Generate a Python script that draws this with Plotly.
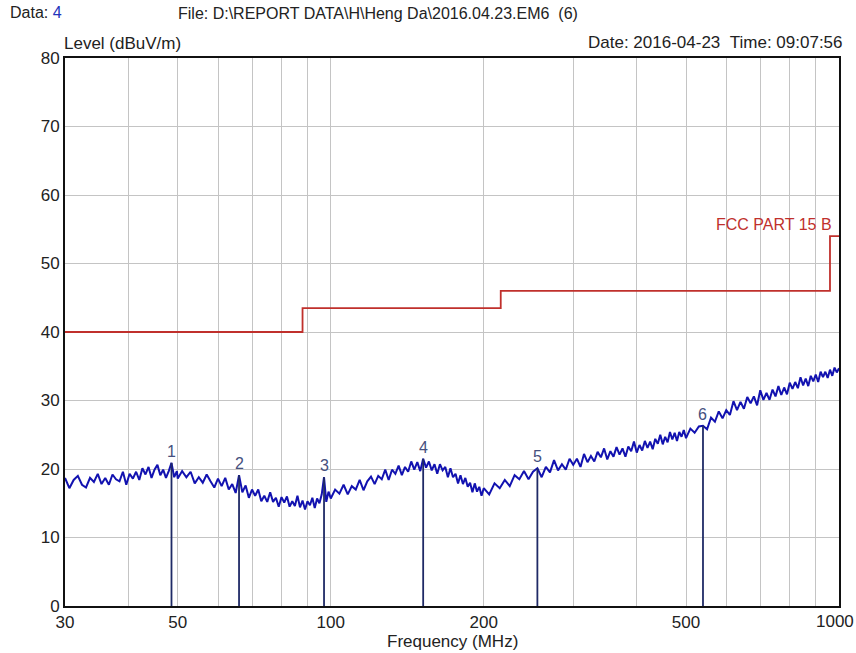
import numpy as np
import plotly.graph_objects as go

# ---------------- data ----------------
FREQ_MHZ = [
    30, 30.6, 31.2, 31.8, 32.4, 33, 33.6, 34.2, 34.8, 35.4, 36, 36.6, 37.2, 37.8, 38.4, 39, 39.6,
    40.2, 40.8, 41.4, 42, 42.6, 43.2, 43.8, 44.4, 45, 45.6, 46.2, 46.8, 47.4, 48, 48.6, 49.2, 49.8,
    50, 51, 52, 53, 54, 55, 56, 57, 58, 59, 60, 61, 62, 63, 64, 65, 66, 67, 68, 69,
    70, 71, 72, 73, 74, 75, 76, 77, 78, 79, 80, 81, 82, 83, 84, 85, 86, 87, 88, 89,
    90, 91, 92, 93, 94, 95, 96, 97, 98, 99,
    100, 102, 104, 106, 108, 110, 112, 114, 116, 118, 120, 122, 124, 126, 128, 130, 132, 134,
    136, 138, 140, 142, 144, 146, 148, 150, 152, 154, 156, 158, 160, 162, 164, 166, 168, 170,
    172, 174, 176, 178, 180, 182, 184, 186, 188, 190, 192, 194, 196, 198,
    200, 205, 210, 215, 220, 225, 230, 235, 240, 245, 250, 255, 260, 265, 270, 275, 280, 285,
    290, 295, 300, 305, 310, 315, 320, 325, 330, 335, 340, 345, 350, 355, 360, 365, 370, 375,
    380, 385, 390, 395, 400, 405, 410, 415, 420, 425, 430, 435, 440, 445, 450, 455, 460, 465,
    470, 475, 480, 485, 490, 495,
    500, 510, 520, 530, 540, 550, 560, 570, 580, 590, 600, 610, 620, 630, 640, 650, 660, 670,
    680, 690, 700, 710, 720, 730, 740, 750, 760, 770, 780, 790, 800, 810, 820, 830, 840, 850,
    860, 870, 880, 890, 900, 910, 920, 930, 940, 950, 960, 970, 980, 990, 1000,
]
LEVEL_DBUV = [
    18.7, 17.2, 18.4, 19.0, 17.7, 17.3, 18.7, 18.1, 19.3, 17.8, 18.7, 17.7, 19.2, 18.5, 18.2, 19.6, 17.7,
    19.3, 18.6, 19.6, 18.4, 20.1, 19.2, 20.3, 18.7, 19.9, 20.6, 19.1, 19.9, 18.7, 19.7, 20.9, 18.8, 19.7,
    18.6, 19.7, 18.8, 19.6, 17.9, 18.8, 18.0, 19.2, 18.2, 17.3, 18.6, 17.5, 18.7, 17.0, 17.8, 16.5, 19.1, 16.6, 17.6, 15.8,
    17.0, 16.1, 17.0, 15.3, 16.1, 15.2, 16.6, 15.2, 15.8, 14.5, 15.9, 15.1, 16.0, 14.5, 15.3, 14.6, 16.1, 14.4, 15.4, 14.1,
    15.3, 14.7, 15.8, 14.3, 15.7, 15.0, 16.3, 18.8, 15.2, 16.7,
    15.7, 17.0, 16.4, 17.7, 16.3, 17.5, 17.0, 18.4, 16.9, 18.2, 18.9, 17.8, 19.0, 18.5, 19.9, 18.4, 19.9, 19.3,
    20.5, 19.1, 20.3, 19.6, 21.1, 19.9, 21.0, 19.7, 21.5, 20.2, 21.1, 19.8, 20.7, 19.3, 20.7, 19.8, 20.3, 18.8,
    20.1, 18.8, 19.3, 17.9, 19.1, 17.8, 18.7, 17.4, 18.0, 16.6, 17.9, 16.7, 17.4, 16.1,
    17.2, 16.3, 17.9, 17.2, 18.4, 17.5, 19.1, 18.5, 19.7, 18.5, 19.6, 20.1, 18.8, 20.3, 19.5, 21.3, 19.8, 20.7,
    19.9, 21.5, 20.6, 21.5, 20.3, 22.2, 21.0, 21.9, 21.1, 22.5, 21.7, 23.0, 21.4, 22.6, 21.8, 23.2, 22.1, 23.0,
    21.8, 23.3, 22.6, 24.0, 22.4, 23.5, 22.7, 24.1, 23.1, 24.0, 22.9, 24.4, 23.7, 25.0, 23.6, 24.7, 23.9, 25.4,
    24.3, 25.3, 24.1, 25.4, 24.7, 25.7,
    24.5, 25.9, 25.3, 26.2, 26.3, 25.8, 27.5, 26.9, 28.4, 27.4, 28.6, 27.9, 29.9, 28.6, 29.8, 28.8, 30.5, 29.6,
    30.6, 29.3, 31.5, 30.1, 31.1, 30.1, 31.6, 30.6, 32.1, 30.8, 31.9, 30.9, 32.6, 31.7, 32.7, 31.8, 33.4, 32.2,
    33.2, 32.1, 33.6, 32.8, 33.8, 32.7, 34.2, 33.4, 34.2, 33.3, 34.5, 33.6, 34.8, 34.1, 34.7,
]

LIMIT_FREQ = [30, 88, 88, 216, 216, 960, 960, 1000]
LIMIT_LEVEL = [40, 40, 43.5, 43.5, 46, 46, 54, 54]
LIMIT_NAME = "FCC PART 15 B"

MARKER_IDS = ["1", "2", "3", "4", "5", "6"]
MARKER_FREQ = [48.6, 66, 97, 152, 255, 540]
MARKER_LEVEL = [20.9, 19.1, 18.8, 21.5, 20.1, 26.3]

X_TICKS = [30, 40, 50, 60, 70, 80, 90, 100, 200, 300, 400, 500, 600, 700, 800, 900, 1000]
X_TICK_TEXT = ["30", "", "50", "", "", "", "", "100", "200", "", "", "500", "", "", "", "", ""]
X_EDGE_LABEL = "1000"   # drawn as an annotation so it is not dropped at the figure edge
Y_TICKS = [0, 10, 20, 30, 40, 50, 60, 70, 80]

FONT = "Liberation Sans, Arial, sans-serif"
TRACE_COLOR = "#1212b0"
MARKER_COLOR = "#1f2a66"
LIMIT_COLOR = "#c0302c"
TEXT_COLOR = "#222222"

FIG_W, FIG_H = 856, 653
PL, PR, PT, PB = 65, 839, 58, 606   # plot area in page pixels

fig = go.Figure()

fig.add_trace(go.Scatter(
    x=FREQ_MHZ, y=LEVEL_DBUV, mode="lines",
    line=dict(color=TRACE_COLOR, width=2), hoverinfo="skip", showlegend=False))

fig.add_trace(go.Scatter(
    x=LIMIT_FREQ, y=LIMIT_LEVEL, mode="lines",
    line=dict(color=LIMIT_COLOR, width=1.8), hoverinfo="skip", showlegend=False))

mx, my = [], []
for f, l in zip(MARKER_FREQ, MARKER_LEVEL):
    mx += [f, f, None]
    my += [0, l, None]
fig.add_trace(go.Scatter(
    x=mx, y=my, mode="lines",
    line=dict(color=MARKER_COLOR, width=1.8), hoverinfo="skip", showlegend=False))

annotations = []
for mid, f, l in zip(MARKER_IDS, MARKER_FREQ, MARKER_LEVEL):
    annotations.append(dict(
        x=np.log10(f), y=l, xref="x", yref="y", text=mid, showarrow=False,
        yanchor="bottom", xanchor="center", yshift=1,
        font=dict(family=FONT, size=16, color="#45507e")))

annotations.append(dict(
    x=np.log10(LIMIT_FREQ[-1]), y=LIMIT_LEVEL[-1], xref="x", yref="y",
    text=LIMIT_NAME, showarrow=False, xanchor="right", yanchor="bottom",
    xshift=-5, yshift=1, font=dict(family=FONT, size=16, color=LIMIT_COLOR)))


def paper_x(px):
    return (px - PL) / (PR - PL)


def paper_y(py):
    return (PB - py) / (PB - PT)


annotations += [
    dict(x=np.log10(X_TICKS[-1]), y=paper_y(621), xref="x", yref="paper", xanchor="center",
         yanchor="middle", xshift=-4, text=X_EDGE_LABEL, showarrow=False,
         font=dict(family=FONT, size=17, color=TEXT_COLOR)),
    dict(x=paper_x(8), y=paper_y(13), xref="paper", yref="paper", xanchor="left", yanchor="middle",
         text="Data: <span style='color:#2233bb'>4</span>", showarrow=False,
         font=dict(family=FONT, size=16, color=TEXT_COLOR)),
    dict(x=paper_x(176), y=paper_y(14), xref="paper", yref="paper", xanchor="left", yanchor="middle",
         text="File: D:\\REPORT DATA\\H\\Heng Da\\2016.04.23.EM6&nbsp;&nbsp;(6)", showarrow=False,
         font=dict(family=FONT, size=16, color=TEXT_COLOR)),
    dict(x=paper_x(62), y=paper_y(44), xref="paper", yref="paper", xanchor="left", yanchor="middle",
         text="Level (dBuV/m)", showarrow=False,
         font=dict(family=FONT, size=17, color=TEXT_COLOR)),
    dict(x=paper_x(845), y=paper_y(43), xref="paper", yref="paper", xanchor="right", yanchor="middle",
         text="Date: 2016-04-23&nbsp;&nbsp;Time: 09:07:56", showarrow=False,
         font=dict(family=FONT, size=17, color=TEXT_COLOR)),
    dict(x=paper_x(452), y=paper_y(641), xref="paper", yref="paper", xanchor="center", yanchor="middle",
         text="Frequency (MHz)", showarrow=False,
         font=dict(family=FONT, size=17, color=TEXT_COLOR)),
]

fig.update_layout(
    width=FIG_W, height=FIG_H,
    margin=dict(l=PL, r=FIG_W - PR, t=PT, b=FIG_H - PB),
    paper_bgcolor="white", plot_bgcolor="white",
    font=dict(family=FONT, size=17, color=TEXT_COLOR),
    annotations=annotations,
    showlegend=False,
)
fig.update_xaxes(
    type="log", range=[np.log10(30), np.log10(1000)],
    tickmode="array", tickvals=X_TICKS, ticktext=X_TICK_TEXT,
    showgrid=True, gridcolor="#c4c4c4", gridwidth=1,
    showline=True, linecolor="#111111", linewidth=2, mirror=True,
    ticks="", ticklen=0, tickfont=dict(family=FONT, size=17, color=TEXT_COLOR),
    zeroline=False, automargin=False,
)
fig.update_yaxes(
    range=[0, 80], tickmode="array", tickvals=Y_TICKS,
    showgrid=True, gridcolor="#c4c4c4", gridwidth=1,
    showline=True, linecolor="#111111", linewidth=2, mirror=True,
    ticks="", tickfont=dict(family=FONT, size=17, color=TEXT_COLOR),
    zeroline=False, automargin=False,
)

fig.write_html(
    "out.html",
    config={"displayModeBar": False},
    post_script="document.body.style.margin='0px';document.body.style.overflow='hidden';",
)
